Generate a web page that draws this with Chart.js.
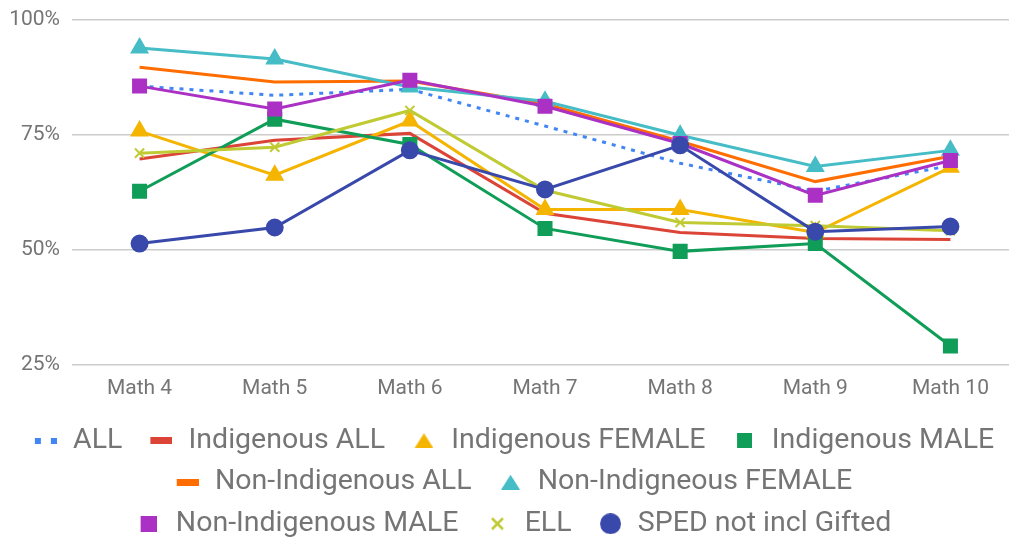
<!DOCTYPE html>
<html>
<head>
<meta charset="utf-8">
<script src="https://cdn.jsdelivr.net/npm/chart.js@4.4.1/dist/chart.umd.min.js"></script>
<style>
  html, body { margin: 0; padding: 0; background: #fff; overflow: hidden; }
  #wrap { width: 1009px; height: 539px; overflow: hidden; }
  /* the plot runs a little past the right edge in the original */
  #inner { width: 1018px; height: 539px; position: relative; }
</style>
</head>
<body>
<div id="wrap"><div id="inner"><canvas id="chart"></canvas></div></div>
<script>
const labels = ['Math 4', 'Math 5', 'Math 6', 'Math 7', 'Math 8', 'Math 9', 'Math 10'];
const yTicks = [25, 50, 75, 100];

const allStudents   = [85.6, 83.6, 84.9, 76.9, 68.8, 62.7, 68.3];
const indigAll      = [69.7, 73.8, 75.3, 57.9, 53.7, 52.4, 52.2];
const indigFemale   = [75.8, 66.2, 78.0, 58.7, 58.7, 53.7, 67.9];
const indigMale     = [62.7, 78.4, 72.9, 54.6, 49.6, 51.3, 29.0];
const nonIndigAll   = [89.7, 86.5, 86.7, 81.7, 73.6, 64.8, 70.3];
const nonIndigFemale = [93.9, 91.5, 85.4, 82.3, 74.9, 68.1, 71.6];
const nonIndigMale  = [85.6, 80.6, 86.9, 81.2, 73.1, 61.8, 69.4];
const ell           = [71.0, 72.3, 80.3, 62.9, 55.9, 55.2, 54.1];
const sped          = [51.3, 54.8, 71.6, 63.1, 72.7, 53.9, 55.0];

const GRID = '#cccccc';
const TEXT = '#757575';

// legend glyphs: small canvases, shifted right inside a wider box so the
// gap before the text matches the original
const SHIFT = 13;
function glyph(w, h, draw) {
  const c = document.createElement('canvas');
  c.width = w + SHIFT; c.height = h;
  const g = c.getContext('2d');
  g.translate(SHIFT, 0);
  draw(g);
  return c;
}
function tri(color) {
  return glyph(19, 15, g => { g.fillStyle = color; g.beginPath(); g.moveTo(9.5, 0); g.lineTo(19, 15); g.lineTo(0, 15); g.fill(); });
}
const legendGlyphs = [
  glyph(22, 6, g => { g.fillStyle = '#4285f4'; g.fillRect(0, 0, 6, 6); g.fillRect(16, 0, 6, 6); }),
  glyph(22, 7, g => { g.fillStyle = '#db4437'; g.fillRect(0, 0, 22, 7); }),
  tri('#f4b400'),
  glyph(15, 15, g => { g.fillStyle = '#0f9d58'; g.fillRect(0, 0, 15, 15); }),
  glyph(22, 7, g => { g.fillStyle = '#ff6d01'; g.fillRect(0, 0, 22, 7); }),
  tri('#46bdc6'),
  glyph(16, 16, g => { g.fillStyle = '#ab30c4'; g.fillRect(0, 0, 16, 16); }),
  glyph(15, 15, g => { g.strokeStyle = '#c0ca33'; g.lineWidth = 2.5; g.beginPath(); g.moveTo(2, 2); g.lineTo(13, 13); g.moveTo(13, 2); g.lineTo(2, 13); g.stroke(); }),
  glyph(21, 21, g => { g.fillStyle = '#3949ab'; g.beginPath(); g.arc(10.5, 10.5, 10.5, 0, Math.PI * 2); g.fill(); }),
];

function series(label, data, color, extra) {
  return Object.assign({
    label,
    data,
    borderColor: color,
    backgroundColor: color,
    pointBackgroundColor: color,
    pointBorderColor: color,
    borderWidth: 3,
    pointRadius: 0,
    pointHoverRadius: 0,
    tension: 0,
  }, extra);
}

const datasets = [
  series('ALL', allStudents, '#4285f4', { borderDash: [4, 6] }),
  series('Indigenous ALL', indigAll, '#db4437'),
  series('Indigenous FEMALE', indigFemale, '#f4b400', { pointStyle: 'triangle', pointRadius: 8 }),
  series('Indigenous MALE', indigMale, '#0f9d58', { pointStyle: 'rect', pointRadius: 8.5 }),
  series('Non-Indigenous ALL', nonIndigAll, '#ff6d01'),
  series('Non-Indigneous FEMALE', nonIndigFemale, '#46bdc6', { pointStyle: 'triangle', pointRadius: 8 }),
  series('Non-Indigenous MALE', nonIndigMale, '#ab30c4', { pointStyle: 'rect', pointRadius: 8.5 }),
  series('ELL', ell, '#c0ca33', { pointStyle: 'crossRot', pointRadius: 6.5, pointBorderWidth: 2 }),
  series('SPED not incl Gifted', sped, '#3949ab', { pointStyle: 'circle', pointRadius: 7.5 }),
];
// later series drawn on top, like the original
datasets.forEach((d, i) => { d.order = datasets.length - i; });

// keep the legend centred on the visible part of the page
const legendShift = {
  id: 'legendShift',
  afterLayout(chart) {
    if (!chart.legend) return;
    chart.legend.left -= 2;
    chart.legend.right -= 2;
  },
};

new Chart(document.getElementById('chart'), {
  type: 'line',
  data: { labels, datasets },
  plugins: [legendShift],
  options: {
    responsive: true,
    maintainAspectRatio: false,
    animation: false,
    layout: { autoPadding: false, padding: { top: 20, left: 0, right: 0, bottom: -9 } },
    plugins: {
      tooltip: { enabled: false },
      legend: {
        position: 'bottom',
        labels: {
          usePointStyle: true,
          pointStyleWidth: 39,
          padding: 13,
          color: TEXT,
          font: { family: 'Roboto', size: 28.5 },
          sort: (a, b) => a.datasetIndex - b.datasetIndex,
          generateLabels(chart) {
            const items = Chart.defaults.plugins.legend.labels.generateLabels(chart);
            items.forEach(it => { it.pointStyle = legendGlyphs[it.datasetIndex]; it.lineWidth = 0; });
            return items;
          },
        },
      },
    },
    scales: {
      x: {
        offset: true,
        grid: { display: false, drawTicks: false },
        border: { display: false },
        ticks: { color: TEXT, font: { family: 'Roboto', size: 21 }, padding: 12, maxRotation: 0 },
        afterFit: scale => { scale.paddingLeft = 0; scale.paddingRight = 0; },
      },
      y: {
        min: 25,
        max: 100,
        afterBuildTicks: scale => { scale.ticks = yTicks.map(v => ({ value: v })); },
        afterFit: scale => {
          scale.width = 72;
          scale.paddingTop = 0;
          scale.paddingBottom = 0;
        },
        grid: { color: GRID, lineWidth: 1.5, drawTicks: false },
        border: { display: false },
        ticks: { color: TEXT, font: { family: 'Roboto', size: 21 }, padding: 12, callback: v => v + '%' },
      },
    },
  },
});
</script>
</body>
</html>
